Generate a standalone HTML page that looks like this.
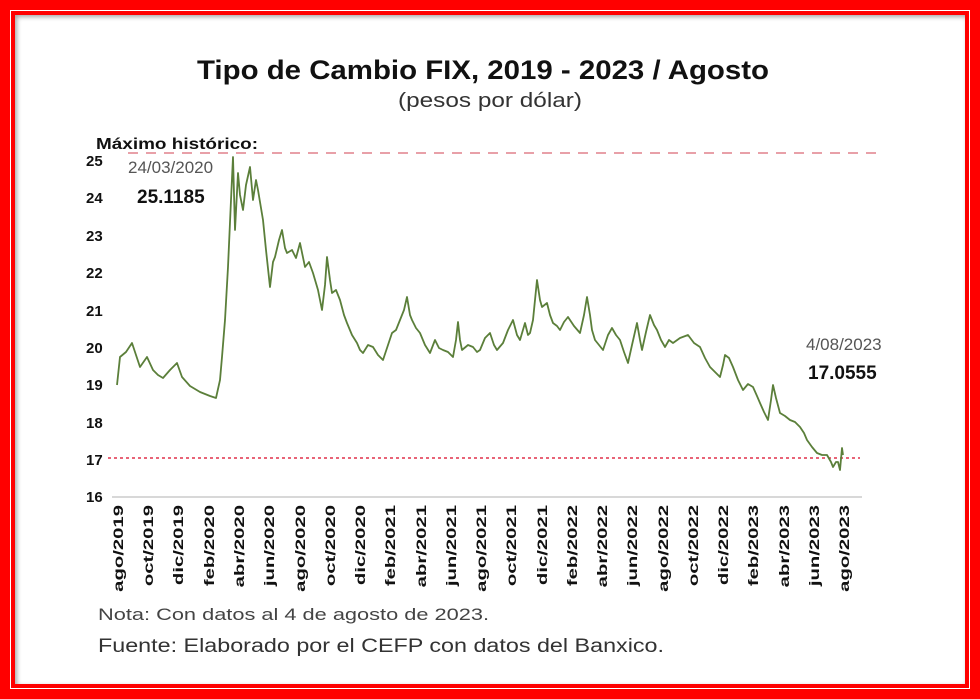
<!DOCTYPE html>
<html><head><meta charset="utf-8"><style>
html,body{margin:0;padding:0;background:#fff}
#f{position:relative;width:980px;height:699px;overflow:hidden;background:#f00}
#w1{position:absolute;left:10px;top:10px;right:10px;bottom:10px;border:1px solid #fff;background:#f00}
#w2{position:absolute;left:15px;top:15px;right:15px;bottom:15px;background:#fff;box-shadow:inset 2px 2px 5px rgba(0,0,0,.35)}
svg{position:absolute;left:0;top:0}
text{font-family:"Liberation Sans",sans-serif}
</style></head><body><div id="f"><div id="w1"></div><div id="w2"></div>
<svg width="980" height="699" viewBox="0 0 980 699">
<text x="197" y="79" font-size="27" font-weight="bold" fill="#111" textLength="572" lengthAdjust="spacingAndGlyphs">Tipo de Cambio FIX, 2019 - 2023 / Agosto</text>
<text x="398" y="107" font-size="20" fill="#333" textLength="184" lengthAdjust="spacingAndGlyphs">(pesos por dólar)</text>
<g font-size="15" font-weight="bold" fill="#111" text-anchor="start">
<text x="86" y="166">25</text><text x="86" y="203">24</text><text x="86" y="241">23</text><text x="86" y="278">22</text><text x="86" y="316">21</text><text x="86" y="353">20</text><text x="86" y="390">19</text><text x="86" y="428">18</text><text x="86" y="465">17</text><text x="86" y="502">16</text>
</g>
<line x1="112" y1="497" x2="862" y2="497" stroke="#ccc" stroke-width="1.5"/>
<line x1="128" y1="153" x2="876" y2="153" stroke="#e8a0a8" stroke-width="2" stroke-dasharray="10 8"/>
<line x1="108" y1="458" x2="860" y2="458" stroke="#e0304a" stroke-width="1.5" stroke-dasharray="3 3"/>
<polyline fill="none" stroke="#5b7f3a" stroke-width="1.8" stroke-linejoin="round" points="117,385 120,357 126,352 132,343 136,355 140,367 147,357 153,370 158,375 163,378 170,370 177,363 182,377 190,386 200,392 210,396 216,398 220,380 222,357 225,320 228,267 231,200 233,157 235,230 238,173 240,195 243,210 246,185 250,167 253,200 256,180 258,190 263,220 266,250 270,287 273,262 275,257 279,240 282,230 285,248 287,253 292,250 296,258 300,243 305,267 309,262 313,273 318,290 322,310 325,285 327,257 330,280 332,293 336,290 340,300 344,315 347,323 352,335 357,343 360,350 363,353 368,345 373,347 378,355 383,360 388,345 392,333 396,330 400,320 404,310 407,297 410,315 412,320 416,328 420,333 425,345 430,353 435,340 439,348 443,350 448,352 453,357 456,340 458,322 460,340 462,350 468,345 473,347 477,352 480,350 485,338 490,333 494,345 497,350 503,343 508,330 513,320 517,335 520,340 525,323 528,335 530,333 533,320 535,300 537,280 540,300 542,307 547,303 550,315 553,323 557,326 560,330 564,322 568,317 574,326 580,333 584,315 587,297 590,315 592,330 595,340 599,345 603,350 608,335 612,328 616,335 620,340 624,352 628,363 632,345 637,323 640,340 642,350 646,332 650,315 654,325 657,330 661,340 665,347 669,340 673,343 680,338 688,335 694,343 700,347 705,358 710,367 715,372 720,377 723,365 725,355 729,358 733,367 738,380 743,390 748,384 753,387 757,396 760,403 764,412 768,420 771,400 773,385 776,398 780,413 785,416 790,420 795,422 800,427 804,433 807,440 812,447 817,453 822,455 827,455 831,462 833,467 836,462 838,462 840,470 842,448 843,455"/>
<text x="96" y="149" font-size="16" font-weight="bold" fill="#111" textLength="162" lengthAdjust="spacingAndGlyphs">Máximo histórico:</text>
<text x="128" y="173" font-size="17" fill="#555">24/03/2020</text>
<text x="137" y="203" font-size="19" font-weight="bold" fill="#111">25.1185</text>
<text x="806" y="350" font-size="17" fill="#555">4/08/2023</text>
<text x="808" y="379" font-size="19" font-weight="bold" fill="#111">17.0555</text>
<g font-size="14" font-weight="bold" fill="#111" text-anchor="end">
<text transform="translate(123,505) rotate(-90) scale(1.45,1)">ago/2019</text>
<text transform="translate(153,505) rotate(-90) scale(1.45,1)">oct/2019</text>
<text transform="translate(183,505) rotate(-90) scale(1.45,1)">dic/2019</text>
<text transform="translate(214,505) rotate(-90) scale(1.45,1)">feb/2020</text>
<text transform="translate(244,505) rotate(-90) scale(1.45,1)">abr/2020</text>
<text transform="translate(274,505) rotate(-90) scale(1.45,1)">jun/2020</text>
<text transform="translate(305,505) rotate(-90) scale(1.45,1)">ago/2020</text>
<text transform="translate(335,505) rotate(-90) scale(1.45,1)">oct/2020</text>
<text transform="translate(365,505) rotate(-90) scale(1.45,1)">dic/2020</text>
<text transform="translate(395,505) rotate(-90) scale(1.45,1)">feb/2021</text>
<text transform="translate(426,505) rotate(-90) scale(1.45,1)">abr/2021</text>
<text transform="translate(456,505) rotate(-90) scale(1.45,1)">jun/2021</text>
<text transform="translate(486,505) rotate(-90) scale(1.45,1)">ago/2021</text>
<text transform="translate(516,505) rotate(-90) scale(1.45,1)">oct/2021</text>
<text transform="translate(547,505) rotate(-90) scale(1.45,1)">dic/2021</text>
<text transform="translate(577,505) rotate(-90) scale(1.45,1)">feb/2022</text>
<text transform="translate(607,505) rotate(-90) scale(1.45,1)">abr/2022</text>
<text transform="translate(637,505) rotate(-90) scale(1.45,1)">jun/2022</text>
<text transform="translate(668,505) rotate(-90) scale(1.45,1)">ago/2022</text>
<text transform="translate(698,505) rotate(-90) scale(1.45,1)">oct/2022</text>
<text transform="translate(728,505) rotate(-90) scale(1.45,1)">dic/2022</text>
<text transform="translate(758,505) rotate(-90) scale(1.45,1)">feb/2023</text>
<text transform="translate(789,505) rotate(-90) scale(1.45,1)">abr/2023</text>
<text transform="translate(819,505) rotate(-90) scale(1.45,1)">jun/2023</text>
<text transform="translate(849,505) rotate(-90) scale(1.45,1)">ago/2023</text>
</g>
<text x="98" y="620" font-size="17" fill="#444" textLength="391" lengthAdjust="spacingAndGlyphs">Nota: Con datos al 4 de agosto de 2023.</text>
<text x="98" y="652" font-size="19" fill="#333" textLength="566" lengthAdjust="spacingAndGlyphs">Fuente: Elaborado por el CEFP con datos del Banxico.</text>
</svg></div></body></html>
